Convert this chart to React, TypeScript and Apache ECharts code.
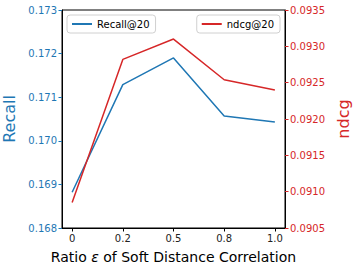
import React, { useEffect, useRef } from "react";
import * as echarts from "echarts";

const xLabels = ["0", "0.2", "0.5", "0.8", "1.0"];
const recall = [0.16882, 0.17129, 0.1719, 0.17057, 0.17043];
const ndcg = [0.09085, 0.09282, 0.0931, 0.09254, 0.0924];
const recallTicks = [0.168, 0.169, 0.17, 0.171, 0.172, 0.173];
const ndcgTicks = [0.0905, 0.091, 0.0915, 0.092, 0.0925, 0.093, 0.0935];

const BLUE = "#1f77b4";
const RED = "#d62728";
const FONT = "DejaVu Sans";

export default function App() {
  const ref = useRef<HTMLDivElement>(null);
  useEffect(() => {
    if (!ref.current) return;
    const chart = echarts.init(ref.current, undefined, { renderer: "svg" });
    const idx = xLabels.map((_, i) => i);
    chart.setOption({
      animation: false,
      backgroundColor: "#fff",
      textStyle: { fontFamily: FONT },
      grid: {
        left: 62,
        right: 68,
        top: 10,
        bottom: 43,
        containLabel: false,
        outerBoundsMode: "none",
        show: true,
        borderColor: "#000",
        borderWidth: 1,
        backgroundColor: "transparent",
      },
      legend: [
        {
          data: ["Recall@20"],
          left: 67,
          top: 15,
          icon: "rect",
          itemWidth: 20,
          itemHeight: 2,
          itemGap: 6,
          padding: [4, 6, 4, 5],
          borderColor: "#d0d0d0",
          borderWidth: 1,
          borderRadius: 3,
          textStyle: { fontFamily: FONT, fontSize: 10, color: "#000" },
        },
        {
          data: ["ndcg@20"],
          right: 73,
          top: 15,
          icon: "rect",
          itemWidth: 20,
          itemHeight: 2,
          padding: [4, 6, 4, 5],
          borderColor: "#d0d0d0",
          borderWidth: 1,
          borderRadius: 3,
          textStyle: { fontFamily: FONT, fontSize: 10, color: "#000" },
        },
      ],
      xAxis: {
        type: "value",
        min: -0.2,
        max: 4.2,
        name: "Ratio {i|ε} of Soft Distance Correlation",
        nameLocation: "middle",
        nameGap: 22,
        nameTextStyle: {
          fontFamily: FONT,
          fontSize: 14,
          color: "#000",
          rich: { i: { fontFamily: FONT, fontSize: 14, fontStyle: "italic", color: "#000" } },
        },
        axisLine: { show: true, onZero: false, lineStyle: { color: "#000" } },
        axisTick: {
          show: true,
          length: 3.5,
          lineStyle: { color: "#000" },
          customValues: idx,
        },
        axisLabel: {
          customValues: idx,
          formatter: (v: number) => xLabels[Math.round(v)] ?? "",
          fontFamily: FONT,
          fontSize: 10,
          color: "#222",
          margin: 5,
        },
        splitLine: { show: false },
      },
      yAxis: [
        {
          type: "value",
          min: 0.168,
          max: 0.173,
          interval: 0.001,
          position: "left",
          name: "Recall",
          nameLocation: "middle",
          nameGap: 34,
          nameTextStyle: { fontFamily: FONT, fontSize: 16, color: BLUE },
          axisLine: { show: true, onZero: false, lineStyle: { color: "#000" } },
          axisTick: { show: true, length: 3.5, lineStyle: { color: BLUE } },
          axisLabel: {
            customValues: recallTicks,
            formatter: (v: number) => v.toFixed(3),
            fontFamily: FONT,
            fontSize: 10,
            color: BLUE,
            margin: 5,
          },
          splitLine: { show: false },
        },
        {
          type: "value",
          min: 0.0905,
          max: 0.0935,
          interval: 0.0005,
          position: "right",
          name: "ndcg",
          nameLocation: "middle",
          nameGap: 42,
          nameTextStyle: { fontFamily: FONT, fontSize: 16, color: RED },
          axisLine: { show: true, onZero: false, lineStyle: { color: "#000" } },
          axisTick: { show: true, length: 3.5, lineStyle: { color: RED } },
          axisLabel: {
            customValues: ndcgTicks,
            formatter: (v: number) => v.toFixed(4),
            fontFamily: FONT,
            fontSize: 10,
            color: RED,
            margin: 5,
          },
          splitLine: { show: false },
        },
      ],
      series: [
        {
          name: "Recall@20",
          type: "line",
          yAxisIndex: 0,
          data: idx.map((i) => [i, recall[i]]),
          showSymbol: false,
          symbol: "none",
          lineStyle: { color: BLUE, width: 1.5 },
          itemStyle: { color: BLUE },
        },
        {
          name: "ndcg@20",
          type: "line",
          yAxisIndex: 1,
          data: idx.map((i) => [i, ndcg[i]]),
          showSymbol: false,
          symbol: "none",
          lineStyle: { color: RED, width: 1.5 },
          itemStyle: { color: RED },
        },
      ],
    });
    return () => chart.dispose();
  }, []);
  return <div ref={ref} style={{ width: 353, height: 271, position: "absolute", left: 0, top: 0 }} />;
}
